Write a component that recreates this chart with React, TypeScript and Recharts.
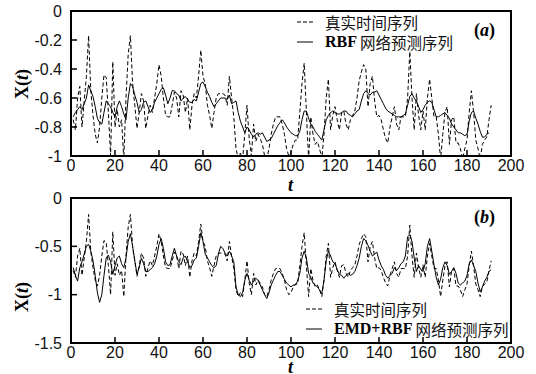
import React from 'react';
import { LineChart, Line, XAxis, YAxis } from 'recharts';

// Real time series (dashed), t = 1..191
const realSeries: number[] = [
  -0.75, -0.82, -0.6, -0.52, -0.8, -0.62, -0.45, -0.17, -0.55, -0.72,
  -0.85, -0.91, -0.8, -0.6, -0.44, -0.46, -0.7, -1.0, -0.35, -0.8,
  -0.68, -0.8, -0.75, -1.02, -0.6, -0.3, -0.17, -0.5, -0.65, -0.81,
  -0.7, -0.57, -0.62, -0.81, -0.72, -0.65, -0.7, -0.6, -0.5, -0.37,
  -0.45, -0.6, -0.72, -0.73, -0.73, -0.65, -0.56, -0.6, -0.73, -0.55,
  -0.58, -0.7, -0.6, -0.82, -0.65, -0.57, -0.6, -0.45, -0.27, -0.45,
  -0.5, -0.65, -0.72, -0.81, -0.7, -0.6, -0.57, -0.57, -0.57, -0.58,
  -0.65, -0.45, -0.6, -0.73, -0.95, -1.02, -0.98, -1.02, -0.85, -0.65,
  -0.88, -1.0, -0.78, -0.9, -0.85, -0.88, -0.92, -1.0, -1.02, -0.95,
  -0.85, -0.78, -0.73, -0.73, -0.73, -0.78, -0.85, -0.95, -1.0, -0.98,
  -0.92, -0.89, -0.89, -0.7, -0.5, -0.36, -0.7, -1.02, -0.73, -0.85,
  -0.92, -0.9, -0.95, -1.02, -0.85, -0.6, -0.47, -0.82, -0.72, -0.66,
  -0.75, -0.82, -0.7, -0.69, -0.78, -0.82, -0.75, -0.72, -0.69, -0.6,
  -0.48, -0.42, -0.37, -0.4, -0.66, -0.5, -0.45, -0.62, -0.73, -0.72,
  -0.75, -0.82, -0.88, -0.91, -0.8, -0.73, -0.66, -0.78, -0.82, -0.73,
  -0.73, -0.73, -0.6, -0.28, -0.6, -0.82, -0.57, -0.72, -0.82, -0.69,
  -0.82, -0.6, -0.47, -0.6, -0.73, -0.73, -0.85, -1.02, -0.85, -0.7,
  -0.66, -0.92, -0.75, -0.73, -0.91, -0.91, -0.95, -1.02, -0.95, -0.89,
  -0.7, -0.55, -0.7, -0.89, -0.95, -1.02, -0.92, -0.89, -0.87, -0.75,
  -0.65,
];

// RBF network prediction (panel a, solid)
const rbfSeries: number[] = [
  -0.73, -0.7, -0.68, -0.66, -0.68, -0.64, -0.6, -0.51, -0.55, -0.59,
  -0.66, -0.74, -0.77, -0.78, -0.7, -0.62, -0.64, -0.66, -0.7, -0.73,
  -0.66, -0.62, -0.66, -0.71, -0.75, -0.6, -0.5, -0.52, -0.58, -0.63,
  -0.7, -0.68, -0.63, -0.62, -0.66, -0.7, -0.68, -0.63, -0.6, -0.57,
  -0.54, -0.53, -0.58, -0.64, -0.6, -0.55, -0.55, -0.57, -0.58, -0.62,
  -0.6, -0.59, -0.61, -0.63, -0.63, -0.61, -0.62, -0.56, -0.5, -0.49,
  -0.52, -0.56, -0.59, -0.63, -0.66, -0.64, -0.62, -0.6, -0.6, -0.6,
  -0.61, -0.58, -0.64, -0.63, -0.62, -0.7, -0.76, -0.8, -0.84, -0.8,
  -0.82, -0.85, -0.87, -0.85, -0.84, -0.85, -0.84, -0.87, -0.9, -0.89,
  -0.88, -0.85, -0.82, -0.79, -0.77, -0.75, -0.77, -0.8, -0.82, -0.84,
  -0.85, -0.86, -0.86, -0.83, -0.75, -0.69, -0.69, -0.74, -0.78, -0.8,
  -0.83, -0.85, -0.87, -0.89, -0.82, -0.75, -0.72, -0.7, -0.69, -0.7,
  -0.71, -0.71, -0.7, -0.69, -0.69, -0.71, -0.72, -0.73, -0.71, -0.69,
  -0.68, -0.62, -0.57, -0.55, -0.57, -0.58, -0.56, -0.56, -0.55, -0.58,
  -0.61, -0.64, -0.67, -0.69, -0.7, -0.71, -0.72, -0.73, -0.73, -0.73,
  -0.72, -0.71, -0.65, -0.59, -0.57, -0.6, -0.62, -0.66, -0.7, -0.68,
  -0.65, -0.63, -0.62, -0.63, -0.68, -0.73, -0.73, -0.72, -0.71, -0.7,
  -0.72, -0.74, -0.78, -0.8, -0.82, -0.84, -0.84, -0.85, -0.86, -0.85,
  -0.76, -0.7, -0.69, -0.74, -0.78, -0.83, -0.87, -0.87, -0.85, -0.84,
];

// EMD+RBF network prediction (panel b, solid)
const emdSeries: number[] = [
  -0.72, -0.8, -0.86, -0.72, -0.66, -0.58, -0.5, -0.48, -0.55, -0.65,
  -0.8, -0.98, -1.08, -1.0, -0.8, -0.62, -0.59, -0.66, -0.79, -0.7,
  -0.62, -0.6, -0.68, -0.72, -0.62, -0.45, -0.37, -0.5, -0.65, -0.79,
  -0.72, -0.62, -0.68, -0.76, -0.76, -0.74, -0.72, -0.68, -0.6, -0.48,
  -0.42, -0.52, -0.66, -0.7, -0.69, -0.6, -0.52, -0.6, -0.66, -0.69,
  -0.62, -0.6, -0.66, -0.72, -0.7, -0.64, -0.62, -0.5, -0.36, -0.45,
  -0.58, -0.62, -0.66, -0.7, -0.72, -0.7, -0.58, -0.5, -0.52, -0.57,
  -0.6, -0.55, -0.6, -0.66, -0.92, -1.0, -1.02, -0.98, -0.85, -0.78,
  -0.85, -0.9, -0.86, -0.83, -0.85, -0.9, -0.95, -1.0, -1.04, -0.98,
  -0.9, -0.85, -0.8, -0.76, -0.76, -0.8, -0.84, -0.88, -0.9, -0.92,
  -0.9, -0.9, -0.86, -0.78, -0.62, -0.55, -0.62, -0.78, -0.82, -0.88,
  -0.9, -0.92, -0.95, -0.99, -0.85, -0.65, -0.55, -0.6, -0.66, -0.68,
  -0.74, -0.79, -0.8, -0.83, -0.8, -0.78, -0.8, -0.79, -0.76, -0.7,
  -0.62, -0.5, -0.42, -0.44, -0.49, -0.55, -0.6, -0.58, -0.56, -0.64,
  -0.7, -0.74, -0.8, -0.83, -0.8, -0.78, -0.72, -0.75, -0.72, -0.68,
  -0.66, -0.6, -0.4, -0.38, -0.45, -0.62, -0.76, -0.7, -0.74, -0.76,
  -0.68, -0.5, -0.42, -0.55, -0.69, -0.82, -0.9, -0.84, -0.72, -0.66,
  -0.7, -0.79, -0.76, -0.72, -0.78, -0.88, -0.9, -0.88, -0.86, -0.8,
  -0.68, -0.64, -0.7, -0.76, -0.88, -0.97, -0.92, -0.86, -0.82, -0.76,
  -0.74,
];

const xTicks = [0, 20, 40, 60, 80, 100, 120, 140, 160, 180, 200];
const yTicksA = [0, -0.2, -0.4, -0.6, -0.8, -1];
const yTicksB = [0, -0.5, -1, -1.5];

const realName = '真实时间序列';
const rbfName = 'RBF 网络预测序列';
const emdName = 'EMD+RBF 网络预测序列';

const rows = realSeries.map((v, i) => ({
  t: i + 1,
  real: v,
  rbf: i < rbfSeries.length ? rbfSeries[i] : null,
  emd: i < emdSeries.length ? emdSeries[i] : null,
}));

const SERIF = '"Liberation Serif", "Times New Roman", serif';
const CJK = '"Noto Sans CJK SC", sans-serif';
const SANS = '"Liberation Sans", Arial, sans-serif';
const DASH = '4 2.5';

const CHART_W = 536;
const CHART_H = 187;
const M_TOP = 11;
const M_RIGHT = 25;
const Y_W = 71;
const X_H = 31;
const PLOT_W = CHART_W - M_RIGHT - Y_W;
const PLOT_H = CHART_H - M_TOP - X_H;
const FRAME = '#000';
const FRAME_W = 2;

const splitName = (name: string) => {
  const idx = name.indexOf(' ');
  if (idx < 0) return { latin: '', cjk: name };
  return { latin: name.slice(0, idx), cjk: name.slice(idx + 1) };
};

function LegendRow({ dashed, name }: { dashed: boolean; name: string }) {
  const { latin, cjk } = splitName(name);
  return (
    <div style={{ display: 'flex', alignItems: 'center', height: 20 }}>
      <svg width={16} height={4} style={{ marginRight: 12 }}>
        <line x1={0} y1={2} x2={16} y2={2} stroke="#000" strokeWidth={1} strokeDasharray={dashed ? '4 2' : undefined} />
      </svg>
      {latin && (
        <span style={{ fontFamily: SERIF, fontWeight: 'bold', fontSize: 16, marginRight: 3, color: '#000' }}>{latin}</span>
      )}
      <span style={{ fontFamily: CJK, fontSize: 15.5, color: '#111' }}>{cjk}</span>
    </div>
  );
}

const XTick = (props: any) => {
  const x = Number(props.x);
  const y = Number(props.y);
  return (
    <g>
      <rect x={x - 0.75} y={y - 6} width={1.5} height={6} fill="#000" />
      <text x={x} y={y + 4} dy="0.71em" textAnchor="middle" fill="#111" fontSize={16} fontFamily={SANS}>
        {props.payload.value}
      </text>
    </g>
  );
};

const YTick = (props: any) => {
  const x = Number(props.x);
  const y = Number(props.y);
  return (
    <g>
      <rect x={x} y={y - 0.75} width={6} height={1.5} fill="#000" />
      <text x={x - 9} y={y} dy="0.355em" textAnchor="end" fill="#111" fontSize={16} fontFamily={SANS}>
        {props.payload.value}
      </text>
    </g>
  );
};

function Panel({ predKey, predName, yDomain, yTicks }: any) {
  return (
    <div style={{ position: 'relative', width: CHART_W, height: CHART_H }}>
      <LineChart width={CHART_W} height={CHART_H} data={rows} margin={{ top: M_TOP, right: M_RIGHT, bottom: 0, left: 0 }}>
        <XAxis
          dataKey="t"
          type="number"
          domain={[0, 200]}
          ticks={xTicks}
          interval={0}
          height={X_H}
          tickSize={0}
          tickMargin={0}
          axisLine={false}
          tickLine={false}
          tick={XTick}
        />
        <YAxis
          type="number"
          domain={yDomain}
          ticks={yTicks}
          interval={0}
          allowDataOverflow
          width={Y_W}
          tickSize={0}
          tickMargin={0}
          axisLine={false}
          tickLine={false}
          tick={YTick}
        />
        <Line
          dataKey="real"
          name={realName}
          stroke="#000"
          strokeWidth={1}
          strokeDasharray={DASH}
          dot={false}
          isAnimationActive={false}
          type="linear"
        />
        <Line
          dataKey={predKey}
          name={predName}
          stroke="#000"
          strokeWidth={1}
          dot={false}
          isAnimationActive={false}
          type="linear"
        />
      </LineChart>
      <div style={{ position: 'absolute', left: Y_W - FRAME_W / 2, top: M_TOP - FRAME_W / 2, width: PLOT_W + FRAME_W, height: FRAME_W, background: FRAME }} />
      <div style={{ position: 'absolute', left: Y_W - FRAME_W / 2, top: M_TOP + PLOT_H - FRAME_W / 2, width: PLOT_W + FRAME_W, height: FRAME_W, background: FRAME }} />
      <div style={{ position: 'absolute', left: Y_W - FRAME_W / 2, top: M_TOP - FRAME_W / 2, width: FRAME_W, height: PLOT_H + FRAME_W, background: FRAME }} />
      <div style={{ position: 'absolute', left: Y_W + PLOT_W - FRAME_W / 2, top: M_TOP - FRAME_W / 2, width: FRAME_W, height: PLOT_H + FRAME_W, background: FRAME }} />
    </div>
  );
}

const titleStyle: React.CSSProperties = {
  position: 'absolute',
  fontFamily: SERIF,
  fontWeight: 'bold',
  fontSize: 18,
  color: '#000',
  lineHeight: '18px',
  whiteSpace: 'nowrap',
};

function YTitle({ top }: { top: number }) {
  return (
    <div style={{ ...titleStyle, left: 22, top, transform: 'translate(-50%, -50%) rotate(-90deg)' }}>
      X(<i>t</i>)
    </div>
  );
}

function LegendBox({ left, top, predName }: { left: number; top: number; predName: string }) {
  return (
    <div style={{ position: 'absolute', left, top }}>
      <LegendRow dashed name={realName} />
      <LegendRow dashed={false} name={predName} />
    </div>
  );
}

export default function App() {
  return (
    <div style={{ position: 'absolute', left: 0, top: 0, width: 536, height: 374, background: '#fff', overflow: 'hidden' }}>
      <div style={{ position: 'absolute', left: 0, top: 0 }}>
        <Panel predKey="rbf" predName={rbfName} yDomain={[-1, 0]} yTicks={yTicksA} />
      </div>
      <div style={{ position: 'absolute', left: 0, top: 187 }}>
        <Panel predKey="emd" predName={emdName} yDomain={[-1.5, 0]} yTicks={yTicksB} />
      </div>
      <LegendBox left={297} top={12} predName={rbfName} />
      <LegendBox left={306} top={299} predName={emdName} />
      <YTitle top={84} />
      <YTitle top={297} />
      <div style={{ ...titleStyle, left: 288, top: 179, lineHeight: '12px' }}><i>t</i></div>
      <div style={{ ...titleStyle, left: 288, top: 361, lineHeight: '12px' }}><i>t</i></div>
      <div style={{ ...titleStyle, left: 474, top: 21 }}>(<i>a</i>)</div>
      <div style={{ ...titleStyle, left: 474, top: 208 }}>(<i>b</i>)</div>
    </div>
  );
}
